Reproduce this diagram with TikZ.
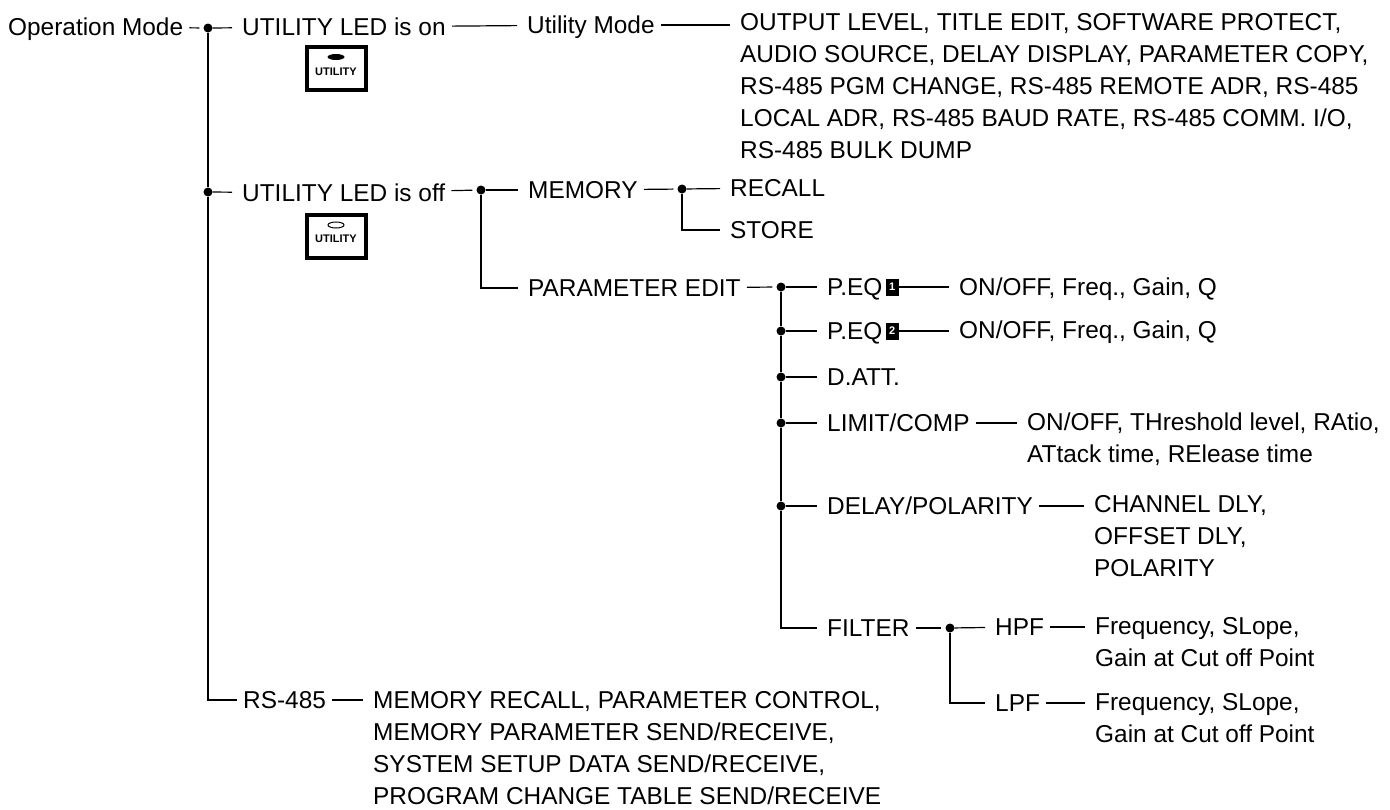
\documentclass[tikz,border=0pt]{standalone}
\usepackage{fontspec}
\setmainfont{Liberation Sans}
\usetikzlibrary{shapes.geometric}
\tikzset{
  lbl/.style={anchor=west,inner ysep=0pt,inner xsep=6pt,text height=17pt,text depth=0pt,font=\fontsize{24.4}{32}\selectfont},
  lst/.style={anchor=north west,inner ysep=4pt,inner xsep=6pt,align=left,font=\fontsize{24.4}{32}\selectfont},
  jnc/.style={circle,fill=black,inner sep=0pt,minimum size=9pt},
  lnk/.style={line width=1.2pt,shorten >=4pt},
  trk/.style={line width=1.3pt},
  utilbtn/.style={draw,line width=4pt,minimum width=59pt,minimum height=43pt,inner sep=0pt,text height=13pt,text depth=0pt,font=\fontsize{11}{11}\selectfont\bfseries},
  eqbox/.style={anchor=west,xshift=-3pt,fill=black,text=white,inner sep=0pt,minimum width=13pt,minimum height=17pt,font=\fontsize{11}{11}\selectfont\bfseries}
}
\begin{document}
\begin{tikzpicture}[x=1pt,y=-1pt]
  \useasboundingbox (0,0) rectangle (1390,809);

  \node[lbl] (opm) at (2,27) {Operation Mode};
  \node[jnc] (j0) at (208,28) {};
  \node[jnc] (j1) at (208,192) {};
  \node[lbl] (uon) at (236,27) {UTILITY LED is on};
  \node[lbl] (uoff) at (236,193) {UTILITY LED is off};
  \node[lbl] (rs) at (237,700) {RS-485};
  \node[lst] (rsl) at (367,687) {MEMORY RECALL, PARAMETER CONTROL,\\MEMORY PARAMETER SEND/RECEIVE,\\SYSTEM SETUP DATA SEND/RECEIVE,\\PROGRAM CHANGE TABLE SEND/RECEIVE};

  \node[utilbtn] (bon) at (336,68.5) {UTILITY};
  \node[utilbtn] (boff) at (336,236) {UTILITY};
  \node[ellipse,fill=black,minimum width=17pt,minimum height=6pt,inner sep=0pt] (ledon) at (336,57) {};
  \node[ellipse,draw,line width=1pt,minimum width=16pt,minimum height=6pt,inner sep=0pt] (ledoff) at (336,225) {};

  \node[lbl] (um) at (521,25) {Utility Mode};
  \node[lst] (oll) at (734,9) {OUTPUT LEVEL, TITLE EDIT, SOFTWARE PROTECT,\\AUDIO SOURCE, DELAY DISPLAY, PARAMETER COPY,\\RS-485 PGM CHANGE, RS-485 REMOTE ADR, RS-485\\LOCAL ADR, RS-485 BAUD RATE, RS-485 COMM. I/O,\\RS-485 BULK DUMP};

  \node[jnc] (j2) at (481,190) {};
  \node[lbl] (mem) at (522,190) {MEMORY};
  \node[jnc] (j3) at (682,189) {};
  \node[lbl] (rcl) at (724,188) {RECALL};
  \node[lbl] (sto) at (724,230) {STORE};
  \node[lbl] (ped) at (522,288) {PARAMETER EDIT};

  \node[jnc] (p0) at (781,287) {};
  \node[jnc] (p1) at (781,331) {};
  \node[jnc] (p2) at (781,377) {};
  \node[jnc] (p3) at (781,423) {};
  \node[jnc] (p4) at (781,506) {};
  \node[lbl] (eq1) at (821,287) {P.EQ};
  \node[eqbox] (b1) at (eq1.east) {1};
  \node[lst] (eq1l) at (953,274) {ON/OFF, Freq., Gain, Q};
  \node[lbl] (eq2) at (821,331) {P.EQ};
  \node[eqbox] (b2) at (eq2.east) {2};
  \node[lst] (eq2l) at (953,317) {ON/OFF, Freq., Gain, Q};
  \node[lbl] (dat) at (821,377) {D.ATT.};
  \node[lbl] (lim) at (821,423) {LIMIT/COMP};
  \node[lst] (liml) at (1021,409) {ON/OFF, THreshold level, RAtio,\\ATtack time, RElease time};
  \node[lbl] (dly) at (821,506) {DELAY/POLARITY};
  \node[lst] (dlyl) at (1088,491) {CHANNEL DLY,\\OFFSET DLY,\\POLARITY};
  \node[lbl] (fil) at (821,628) {FILTER};
  \node[jnc] (j4) at (950,628) {};
  \node[lbl] (hpf) at (989,627) {HPF};
  \node[lbl] (lpf) at (989,703) {LPF};
  \node[lst] (hpfl) at (1089,613) {Frequency, SLope,\\Gain at Cut off Point};
  \node[lst] (lpfl) at (1089,689) {Frequency, SLope,\\Gain at Cut off Point};

  \path[trk] (j0) edge (j1);
  \draw[trk] (j1) |- (rs);
  \path[lnk] (opm) edge (j0);
  \path[lnk] (j0) edge (uon);
  \path[lnk] (j1) edge (uoff);
  \path[lnk] (rs) edge (rs -| rsl.west);
  \path[lnk] (uon) edge (um);
  \path[lnk] (um) edge (um -| oll.west);
  \path[lnk] (uoff) edge (j2);
  \path[lnk] (j2) edge (mem);
  \draw[lnk] (j2) |- (ped);
  \path[lnk] (mem) edge (j3);
  \path[lnk] (j3) edge (rcl);
  \draw[lnk] (j3) |- (sto);
  \path[lnk] (ped) edge (p0);
  \path[trk] (p0) edge (p1);
  \path[trk] (p1) edge (p2);
  \path[trk] (p2) edge (p3);
  \path[trk] (p3) edge (p4);
  \draw[lnk] (p4) |- (fil);
  \path[lnk] (p0) edge (eq1);
  \path[lnk] (p1) edge (eq2);
  \path[lnk] (p2) edge (dat);
  \path[lnk] (p3) edge (lim);
  \path[lnk] (p4) edge (dly);
  \path[lnk] (b1) edge (b1 -| eq1l.west);
  \path[lnk] (b2) edge (b2 -| eq2l.west);
  \path[lnk] (lim) edge (lim -| liml.west);
  \path[lnk] (dly) edge (dly -| dlyl.west);
  \path[lnk] (fil) edge (j4);
  \path[lnk] (j4) edge (hpf);
  \draw[lnk] (j4) |- (lpf);
  \path[lnk] (hpf) edge (hpf -| hpfl.west);
  \path[lnk] (lpf) edge (lpf -| lpfl.west);
\end{tikzpicture}
\end{document}
